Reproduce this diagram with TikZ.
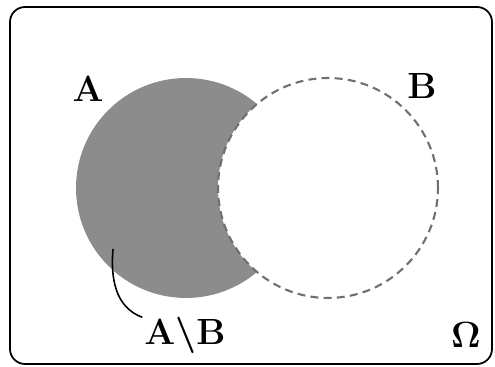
\documentclass[tikz,border=0pt]{standalone}
\usetikzlibrary{positioning}
\definecolor{setgray}{RGB}{140,140,140}
\definecolor{dashgray}{RGB}{112,112,112}
\tikzset{
  frame/.style={draw=black, line width=1pt, rounded corners=0.3cm},
  setA/.style={
    circle,
    inner sep=0pt,
    outer sep=0pt,
    minimum size=4.4cm,
    fill=setgray
  },
  setB/.style={
    circle,
    inner sep=0pt,
    outer sep=0pt,
    minimum size=4.4cm,
    fill=white,
    draw=dashgray,
    line width=1.2pt,
    dash pattern=on 4.5pt off 3pt
  },
  setlabel/.style={inner sep=0pt, font=\fontsize{22.5}{27}\selectfont\boldmath},
  pointer/.style={draw=black, line width=0.9pt}
}

\begin{document}
\begin{tikzpicture}[x=0.02cm, y=-0.02cm]
    \useasboundingbox (0,0) rectangle (495,367);
    \draw[frame] (10,7) rectangle (492,364);

    \node[setA] (A) at (186,188) {};
    \node[setB] (B) at (328,188) {};

    \node[setlabel, anchor=base] (labA) at (88,102) {$\mathbf{A}$};
    \node[setlabel, anchor=base] (labB) at (422,99) {$\mathbf{B}$};
    \node[setlabel, anchor=base] (diff) at (185,345) {$\mathbf{A}\big\backslash\mathbf{B}$};
    \node[setlabel, anchor=base] (omega) at (466,348) {$\mathbf{\Omega}$};

    \coordinate (ptr) at (113,249);
    \draw[pointer] (ptr) to[out=265, in=160] ([xshift=-1pt]diff.north west);
  \end{tikzpicture}
\end{document}
